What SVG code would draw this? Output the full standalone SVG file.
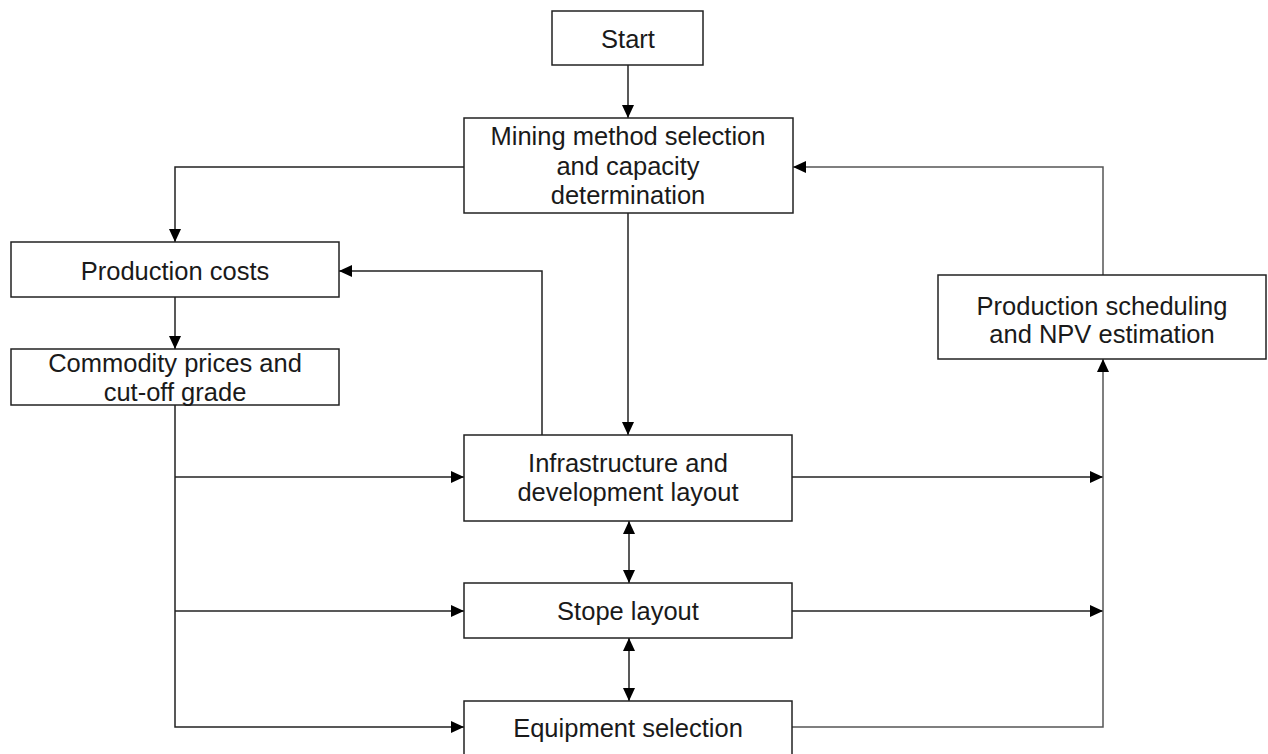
<svg xmlns="http://www.w3.org/2000/svg" width="1268" height="754" viewBox="0 0 1268 754">
<style>
.box{fill:#fff;stroke:#222;stroke-width:1.5}
.lbl{font-family:"Liberation Sans",Arial,sans-serif;font-size:25.5px;fill:#1a1a1a;text-anchor:middle}
.c{fill:none;stroke:#222;stroke-width:1.5}
.g{fill:none;stroke:#555;stroke-width:1.5}
</style>
<defs>
<marker id="ah" viewBox="0 0 13 13" refX="13" refY="6.5" markerWidth="13" markerHeight="13" markerUnits="userSpaceOnUse" orient="auto-start-reverse">
<path d="M0,0.5 L13,6.5 L0,12.5 Z" fill="#000"/>
</marker>
</defs>
<rect width="1268" height="754" fill="#fff"/>
<g id="connectors">
<path class="c" d="M628,65 V118" marker-end="url(#ah)"/>
<path class="c" d="M464,167 H175 V242" marker-end="url(#ah)"/>
<path class="c" d="M175,297 V349" marker-end="url(#ah)"/>
<path class="c" d="M628,213 V435" marker-end="url(#ah)"/>
<path class="c" d="M542,435 V271 H339" marker-end="url(#ah)"/>
<path class="g" d="M1103,275 V167 H793" marker-end="url(#ah)"/>
<path class="c" d="M175,405 V727 H464" marker-end="url(#ah)"/>
<path class="c" d="M175,477 H464" marker-end="url(#ah)"/>
<path class="c" d="M175,611 H464" marker-end="url(#ah)"/>
<path class="c" d="M629,521 V583" marker-start="url(#ah)" marker-end="url(#ah)"/>
<path class="c" d="M629,638 V701" marker-start="url(#ah)" marker-end="url(#ah)"/>
<path class="c" d="M792,477 H1103" marker-end="url(#ah)"/>
<path class="c" d="M792,611 H1103" marker-end="url(#ah)"/>
<path class="g" d="M792,727 H1103 V359" marker-end="url(#ah)"/>
</g>
<g id="start">
<rect class="box" x="552" y="11" width="151" height="54"/>
<text class="lbl" x="628" y="48">Start</text>
</g>
<g id="mining">
<rect class="box" x="464" y="118" width="329" height="95"/>
<text class="lbl" x="628" y="145">Mining method selection</text>
<text class="lbl" x="628" y="175">and capacity</text>
<text class="lbl" x="628" y="204">determination</text>
</g>
<g id="production-costs">
<rect class="box" x="11" y="242" width="328" height="55"/>
<text class="lbl" x="175" y="280">Production costs</text>
</g>
<g id="commodity">
<rect class="box" x="11" y="349" width="328" height="56"/>
<text class="lbl" x="175" y="372">Commodity prices and</text>
<text class="lbl" x="175" y="401">cut-off grade</text>
</g>
<g id="scheduling">
<rect class="box" x="938" y="275" width="328" height="84"/>
<text class="lbl" x="1102" y="315">Production scheduling</text>
<text class="lbl" x="1102" y="343">and NPV estimation</text>
</g>
<g id="infrastructure">
<rect class="box" x="464" y="435" width="328" height="86"/>
<text class="lbl" x="628" y="472">Infrastructure and</text>
<text class="lbl" x="628" y="501">development layout</text>
</g>
<g id="stope">
<rect class="box" x="464" y="583" width="328" height="55"/>
<text class="lbl" x="628" y="620">Stope layout</text>
</g>
<g id="equipment">
<rect class="box" x="464" y="701" width="328" height="56"/>
<text class="lbl" x="628" y="737">Equipment selection</text>
</g>
</svg>
